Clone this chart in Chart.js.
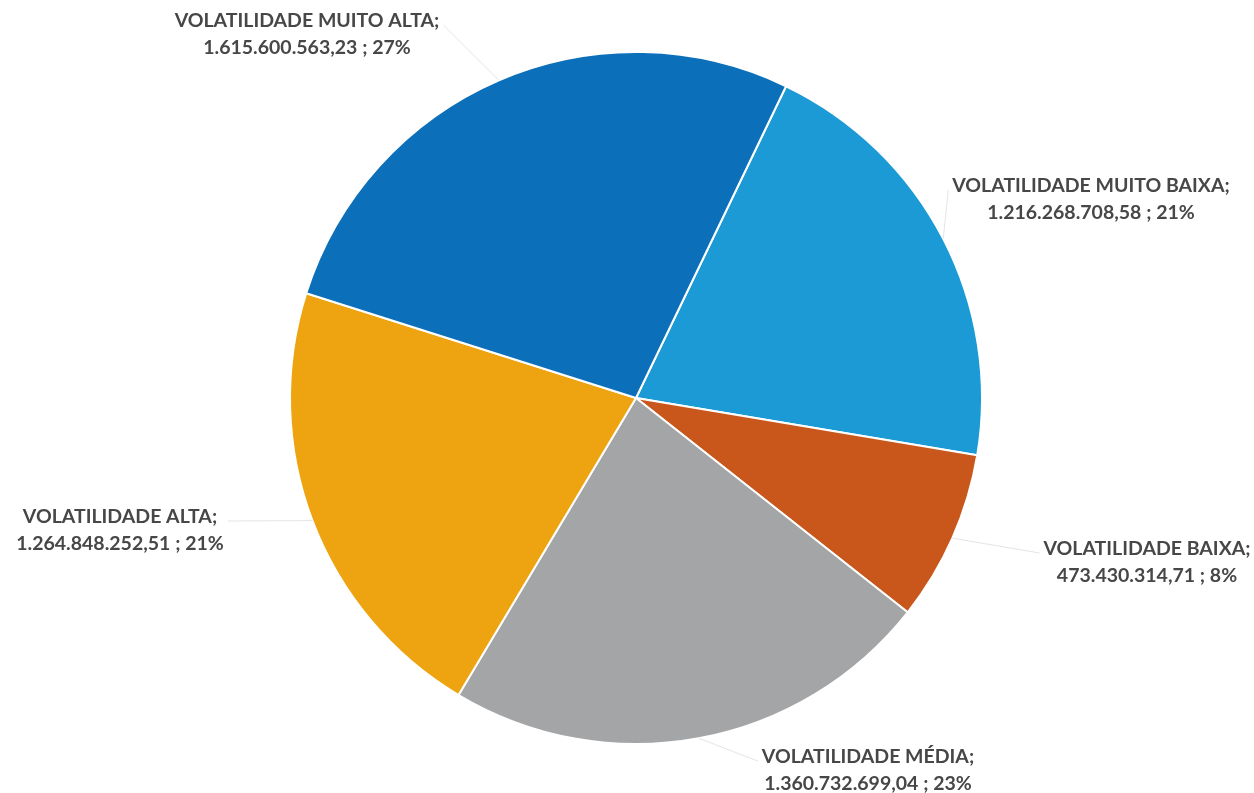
<!DOCTYPE html>
<html>
<head>
<meta charset="utf-8">
<script src="https://cdn.jsdelivr.net/npm/chart.js@4.4.1/dist/chart.umd.min.js"></script>
<style>
  html, body { margin: 0; padding: 0; background: #fff; }
  #wrap { width: 1254px; height: 793px; }
</style>
</head>
<body>
<div id="wrap"><canvas id="pie"></canvas></div>
<script>
// dados
const categorias = ['VOLATILIDADE MUITO BAIXA', 'VOLATILIDADE BAIXA', 'VOLATILIDADE MÉDIA', 'VOLATILIDADE ALTA', 'VOLATILIDADE MUITO ALTA'];
const valores = [1216268708.58, 473430314.71, 1360732699.04, 1264848252.51, 1615600563.23];
const rotulosValor = ['1.216.268.708,58', '473.430.314,71', '1.360.732.699,04', '1.264.848.252,51', '1.615.600.563,23'];
const cores = ['#1b9ad6', '#c9571b', '#a3a5a6', '#eea410', '#0b6fb9'];

// posição dos rótulos (centro da primeira linha)
const posRotulo = [[1091, 186], [1147, 549], [868, 757], [120, 517], [307, 21]];

const total = valores.reduce((a, b) => a + b, 0);
const pct = valores.map(v => Math.round(v / total * 100) + '%');

const rotulos = {
  id: 'rotulos',
  afterDraw(chart) {
    const ctx = chart.ctx;
    const arcs = chart.getDatasetMeta(0).data;
    ctx.save();
    ctx.font = 'bold 19.5px Lato';
    ctx.textAlign = 'center';
    ctx.textBaseline = 'middle';
    arcs.forEach((arc, i) => {
      const l1 = categorias[i] + ';';
      const l2 = rotulosValor[i] + ' ; ' + pct[i];
      const [x, y] = posRotulo[i];
      const w = Math.max(ctx.measureText(l1).width, ctx.measureText(l2).width);
      // linha guia
      const mid = (arc.startAngle + arc.endAngle) / 2;
      const ex = arc.x + Math.cos(mid) * arc.outerRadius;
      const ey = arc.y + Math.sin(mid) * arc.outerRadius;
      const lx = ex < x ? x - w / 2 - 4 : x + w / 2 + 4;
      const ly = y + 4;
      const dist = Math.hypot(lx - ex, ly - ey);
      if (dist > 40) {
        ctx.strokeStyle = '#e4e4e4';
        ctx.lineWidth = 1;
        ctx.beginPath();
        ctx.moveTo(ex, ey);
        ctx.lineTo(lx, ly);
        ctx.stroke();
      }
      ctx.fillStyle = '#474747';
      ctx.fillText(l1, x, y);
      ctx.fillText(l2, x, y + 27);
    });
    ctx.restore();
  }
};

const ctx = document.getElementById('pie').getContext('2d');
const grafico = new Chart(ctx, {
  type: 'pie',
  data: {
    labels: categorias,
    datasets: [{
      data: valores,
      backgroundColor: cores,
      borderColor: '#ffffff',
      borderWidth: 2
    }]
  },
  options: {
    responsive: true,
    maintainAspectRatio: false,
    animation: false,
    rotation: 25.7,
    layout: { padding: { top: 51, bottom: 48, left: 18, right: 0 } },
    plugins: {
      legend: { display: false },
      tooltip: { enabled: false }
    }
  },
  plugins: [rotulos]
});
</script>
</body>
</html>
